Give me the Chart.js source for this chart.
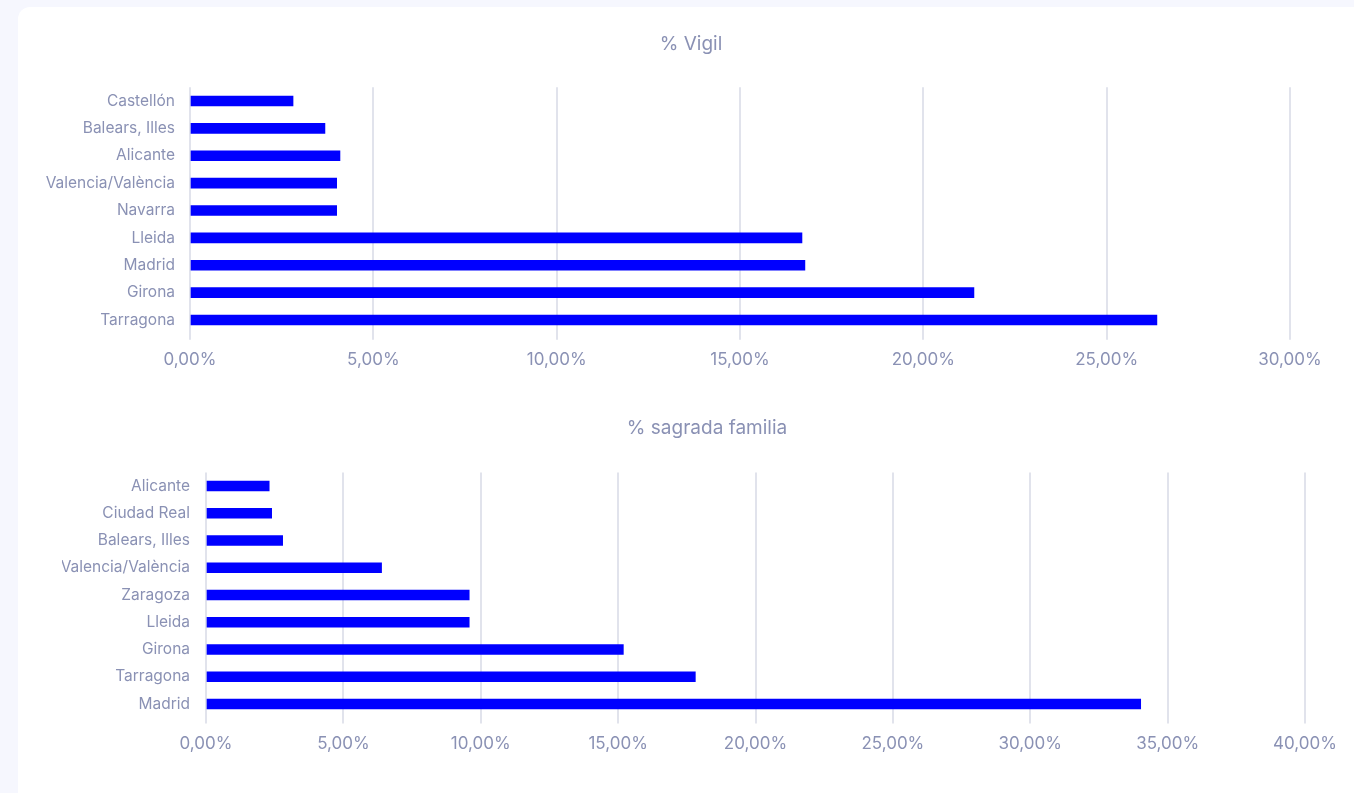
<!DOCTYPE html>
<html>
<head>
<meta charset="utf-8">
<script src="https://cdn.jsdelivr.net/npm/chart.js@4"></script>
<style>
  body { margin:0; background:#f6f7fe; width:1354px; height:793px; overflow:hidden; position:relative; }
  .card { position:absolute; left:18px; top:7px; width:1360px; height:800px; background:#fff; border-radius:12px; }
  canvas { position:absolute; left:0; }
  #vigil { top:0; }
  #sagrada { top:395px; }
</style>
</head>
<body>
<div class="card"></div>
<canvas id="vigil" width="1354" height="395"></canvas>
<canvas id="sagrada" width="1354" height="398"></canvas>
<script>
let vigilLabels = ["Castellón","Balears, Illes","Alicante","Valencia/València","Navarra","Lleida","Madrid","Girona","Tarragona"]
let vigilValues = [2.81, 3.68, 4.09, 4.00, 4.00, 16.69, 16.77, 21.38, 26.37]

let sagradaLabels = ["Alicante","Ciudad Real","Balears, Illes","Valencia/València","Zaragoza","Lleida","Girona","Tarragona","Madrid"]
let sagradaValues = [2.30, 2.39, 2.79, 6.39, 9.58, 9.58, 15.19, 17.81, 34.02]

let vigilTicks = [0, 5, 10, 15, 20, 25, 30]
let sagradaTicks = [0, 5, 10, 15, 20, 25, 30, 35, 40]

let textColor = '#8a91b4'
let gridColor = '#e1e3ec'
Chart.defaults.font.family = "Inter, 'Noto Sans', sans-serif"

function pct(v){
    return v.toFixed(2).replace('.', ',') + '%'
}

function makeChart(el, title, labels, values, ticks, opt){
    return new Chart(el, {
        type: 'bar',
        data: {
            labels: labels,
            datasets: [{
                data: values,
                backgroundColor: '#0000ff',
                borderWidth: 0,
                barThickness: 10
            }]
        },
        options: {
            indexAxis: 'y',
            responsive: false,
            animation: false,
            layout: {
                padding: { left: opt.left, right: opt.right, top: 0, bottom: opt.bottom }
            },
            plugins: {
                legend: { display: false },
                tooltip: { enabled: false },
                title: {
                    display: true,
                    text: title,
                    color: textColor,
                    font: { size: 19, weight: 'normal', lineHeight: 1.2 },
                    padding: { top: opt.titleTop, bottom: opt.titleBottom }
                }
            },
            scales: {
                x: {
                    min: ticks[0],
                    max: ticks[ticks.length - 1],
                    afterBuildTicks: function(axis){
                        axis.ticks = ticks.map(v => ({ value: v }))
                    },
                    afterFit: function(axis){ axis.height = 50 },
                    border: { display: false },
                    grid: { color: gridColor, lineWidth: 2, tickLength: 6, drawTicks: true },
                    ticks: {
                        color: textColor,
                        font: { size: 17 },
                        padding: opt.tickPad,
                        callback: v => pct(v)
                    }
                },
                y: {
                    afterFit: function(axis){ axis.width = opt.yWidth },
                    border: { display: false },
                    grid: { display: false, drawTicks: false },
                    ticks: {
                        color: textColor,
                        font: { size: 15.5 },
                        padding: opt.yPad
                    }
                },
                // empty space on the right so the title sits where it does in the original
                yRight: {
                    type: 'linear',
                    position: 'right',
                    afterFit: function(axis){ axis.width = opt.rightWidth },
                    border: { display: false },
                    grid: { display: false, drawTicks: false },
                    ticks: { display: false }
                }
            }
        }
    })
}

let c1 = makeChart(document.getElementById('vigil'), '% Vigil', vigilLabels, vigilValues, vigilTicks,
    { left: 30, right: 2, bottom: 11.3, yWidth: 160, rightWidth: 62, titleTop: 32.6, titleBottom: 31.9, tickPad: 10, yPad: 15 })

let c2 = makeChart(document.getElementById('sagrada'), '% sagrada familia', sagradaLabels, sagradaValues, sagradaTicks,
    { left: 62, right: 2, bottom: 25.4, yWidth: 144, rightWidth: 47, titleTop: 21.6, titleBottom: 33.0, tickPad: 10, yPad: 16 })
</script>
</body>
</html>
